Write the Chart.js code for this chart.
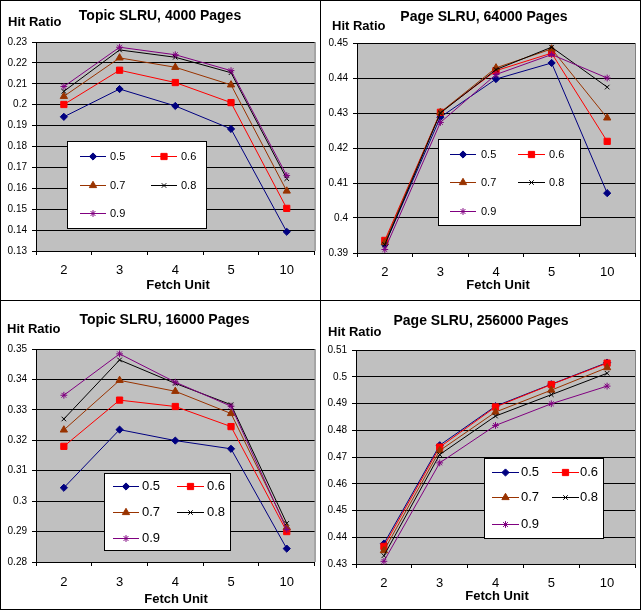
<!DOCTYPE html>
<html><head><meta charset="utf-8">
<script src="https://cdn.jsdelivr.net/npm/chart.js@4.4.1/dist/chart.umd.min.js"></script>
<style>
html,body{margin:0;padding:0;background:#fff;}
#wrap{position:relative;width:641px;height:610px;overflow:hidden;background:#fff;}
canvas{position:absolute;}
.ln{position:absolute;background:#000;z-index:5;}
</style></head><body>
<div id="wrap">
<canvas id="c1" width="320" height="300" style="left:0;top:0"></canvas>
<canvas id="c2" width="321" height="300" style="left:320px;top:0"></canvas>
<canvas id="c3" width="320" height="310" style="left:0;top:300px"></canvas>
<canvas id="c4" width="321" height="310" style="left:320px;top:300px"></canvas>
<div class="ln" style="left:0;top:0;width:641px;height:1px"></div>
<div class="ln" style="left:0;top:609px;width:641px;height:1px"></div>
<div class="ln" style="left:0;top:0;width:1px;height:610px"></div>
<div class="ln" style="left:640px;top:0;width:1px;height:610px"></div>
<div class="ln" style="left:320px;top:0;width:1px;height:610px"></div>
<div class="ln" style="left:0;top:300px;width:641px;height:1px"></div>
</div>
<script>
// ---------- data ----------
const categories = ['2', '3', '4', '5', '10'];
const seriesNames = ['0.5', '0.6', '0.7', '0.8', '0.9'];
const titles = ['Topic SLRU, 4000 Pages', 'Page SLRU, 64000 Pages', 'Topic SLRU, 16000 Pages', 'Page SLRU, 256000 Pages'];
const yAxisTitle = 'Hit Ratio';
const xAxisTitle = 'Fetch Unit';

// y axis [min, max, step]
const yRangeTopic4000 = [0.13, 0.23, 0.01];
const yRangePage64000 = [0.39, 0.45, 0.01];
const yRangeTopic16000 = [0.28, 0.35, 0.01];
const yRangePage256000 = [0.43, 0.51, 0.01];

// Topic SLRU, 4000 Pages
const topic4000_05 = [0.1942, 0.2075, 0.1994, 0.1884, 0.1392];
const topic4000_06 = [0.2001, 0.2165, 0.2106, 0.2010, 0.1504];
const topic4000_07 = [0.2040, 0.2224, 0.2179, 0.2095, 0.1587];
const topic4000_08 = [0.2064, 0.2262, 0.2227, 0.2153, 0.1646];
const topic4000_09 = [0.2087, 0.2275, 0.2239, 0.2163, 0.1661];

// Page SLRU, 64000 Pages
const page64000_05 = [0.3924, 0.4288, 0.4397, 0.4443, 0.4071];
const page64000_06 = [0.3936, 0.4302, 0.4421, 0.4471, 0.4219];
const page64000_07 = [0.3930, 0.4302, 0.4429, 0.4483, 0.4286];
const page64000_08 = [0.3924, 0.4300, 0.4424, 0.4488, 0.4374];
const page64000_09 = [0.3910, 0.4273, 0.4410, 0.4467, 0.4400];

// Topic SLRU, 16000 Pages
const topic16000_05 = [0.3044, 0.3235, 0.3199, 0.3172, 0.2844];
const topic16000_06 = [0.3180, 0.3332, 0.3311, 0.3245, 0.2900];
const topic16000_07 = [0.3234, 0.3397, 0.3361, 0.3288, 0.2913];
const topic16000_08 = [0.3270, 0.3464, 0.3387, 0.3317, 0.2927];
const topic16000_09 = [0.3348, 0.3484, 0.3391, 0.3312, 0.2907];

// Page SLRU, 256000 Pages
const page256000_05 = [0.4376, 0.4744, 0.4890, 0.4972, 0.5053];
const page256000_06 = [0.4366, 0.4737, 0.4887, 0.4971, 0.5051];
const page256000_07 = [0.4350, 0.4724, 0.4868, 0.4950, 0.5034];
const page256000_08 = [0.4331, 0.4709, 0.4853, 0.4933, 0.5013];
const page256000_09 = [0.4310, 0.4678, 0.4818, 0.4899, 0.4965];

// ---------- styles ----------
const FONT = "'Liberation Sans', Arial, Helvetica, sans-serif";
const seriesStyle = [
  {color: '#000080', point: 'rectRot', r: 3.6},
  {color: '#FF0000', point: 'rect', r: 4.4},
  {color: '#993300', point: 'triangle', r: 4.2},
  {color: '#000000', point: 'crossRot', r: 3.2},
  {color: '#800080', point: 'star', r: 3.4}
];

const panels = [
  {id: 'c1', title: titles[0], series: [topic4000_05, topic4000_06, topic4000_07, topic4000_08, topic4000_09], yr: yRangeTopic4000,
   area: {l: 36, t: 42, r: 315, b: 251}, tickPad: 8,
   titleX: 160, titleY: 20, hitX: 8, hitY: 26, fetchX: 178, fetchY: 289,
   legend: {x: 67, y: 141, w: 140, h: 88, rows: [15, 44, 72], c1: [13, 39, 43], c2: [84, 110, 114], fs: 11}},
  {id: 'c2', title: titles[1], series: [page64000_05, page64000_06, page64000_07, page64000_08, page64000_09], yr: yRangePage64000,
   area: {l: 37, t: 43, r: 315, b: 253}, tickPad: 8,
   titleX: 164, titleY: 21, hitX: 12, hitY: 30, fetchX: 178, fetchY: 289,
   legend: {x: 118, y: 139, w: 143, h: 87, rows: [15, 43, 72], c1: [12, 38, 43], c2: [80, 107, 111], fs: 11}},
  {id: 'c3', title: titles[2], series: [topic16000_05, topic16000_06, topic16000_07, topic16000_08, topic16000_09], yr: yRangeTopic16000,
   area: {l: 36, t: 49, r: 315, b: 262}, tickPad: 9,
   titleX: 164.5, titleY: 24, hitX: 7, hitY: 33, fetchX: 176, fetchY: 303,
   legend: {x: 104, y: 173, w: 127, h: 78, rows: [13, 39, 65], c1: [9, 35, 38], c2: [73, 100, 103], fs: 13}},
  {id: 'c4', title: titles[3], series: [page256000_05, page256000_06, page256000_07, page256000_08, page256000_09], yr: yRangePage256000,
   area: {l: 36, t: 50, r: 315, b: 264}, tickPad: 8,
   titleX: 161, titleY: 25, hitX: 8, hitY: 36, fetchX: 177, fetchY: 300,
   legend: {x: 164, y: 158, w: 120, h: 81, rows: [14, 39, 66], c1: [8, 35, 37], c2: [68, 95, 96], fs: 13}}
];

function drawMarker(ctx, st, x, y) {
  ctx.save();
  ctx.fillStyle = st.color;
  ctx.strokeStyle = st.color;
  ctx.lineWidth = 1;
  Chart.helpers.drawPoint(ctx, {pointStyle: st.point, radius: st.r, rotation: 0, borderWidth: 1}, x, y);
  ctx.restore();
}

function makeChart(p) {
  const canvas = document.getElementById(p.id);
  const W = canvas.width, H = canvas.height;
  const deco = {
    id: 'deco' + p.id,
    beforeDraw(chart) {
      const ctx = chart.ctx, a = chart.chartArea;
      ctx.save();
      ctx.fillStyle = '#fff';
      ctx.fillRect(0, 0, W, H);
      ctx.fillStyle = '#C0C0C0';
      ctx.fillRect(a.left, a.top, a.right - a.left + 1, a.bottom - a.top);
      ctx.strokeStyle = '#808080';
      ctx.lineWidth = 1;
      ctx.beginPath();
      ctx.moveTo(a.right + 0.5, a.top);
      ctx.lineTo(a.right + 0.5, a.bottom);
      ctx.stroke();
      ctx.restore();
    },
    afterDraw(chart) {
      const ctx = chart.ctx;
      ctx.save();
      ctx.fillStyle = '#000';
      ctx.textBaseline = 'alphabetic';
      ctx.font = 'bold 14px ' + FONT;
      ctx.textAlign = 'center';
      ctx.fillText(p.title, p.titleX, p.titleY);
      ctx.font = 'bold 13px ' + FONT;
      ctx.textAlign = 'left';
      ctx.fillText(yAxisTitle, p.hitX, p.hitY);
      ctx.textAlign = 'center';
      ctx.fillText(xAxisTitle, p.fetchX, p.fetchY);
      // legend
      const L = p.legend;
      ctx.fillStyle = '#fff';
      ctx.fillRect(L.x, L.y, L.w, L.h);
      ctx.strokeStyle = '#000';
      ctx.lineWidth = 1;
      ctx.strokeRect(L.x + 0.5, L.y + 0.5, L.w - 1, L.h - 1);
      ctx.font = L.fs + 'px ' + FONT;
      ctx.textAlign = 'left';
      ctx.textBaseline = 'middle';
      seriesNames.forEach((name, i) => {
        const row = Math.floor(i / 2), col = i % 2;
        const c = col === 0 ? L.c1 : L.c2;
        const y = L.y + L.rows[row] + 0.5;
        const st = seriesStyle[i];
        ctx.strokeStyle = st.color;
        ctx.beginPath();
        ctx.moveTo(L.x + c[0], y);
        ctx.lineTo(L.x + c[1], y);
        ctx.stroke();
        drawMarker(ctx, st, L.x + (c[0] + c[1]) / 2, y);
        ctx.fillStyle = '#000';
        ctx.fillText(name, L.x + c[2], y);
      });
      ctx.restore();
    }
  };
  const datasets = p.series.map((vals, i) => ({
    label: seriesNames[i],
    data: vals,
    borderColor: seriesStyle[i].color,
    backgroundColor: seriesStyle[i].color,
    borderWidth: 1,
    pointStyle: seriesStyle[i].point,
    pointRadius: seriesStyle[i].r,
    pointBorderWidth: 1,
    pointBackgroundColor: seriesStyle[i].color,
    pointBorderColor: seriesStyle[i].color,
    tension: 0,
    fill: false,
    clip: false,
    order: 4 - i
  }));
  return new Chart(canvas, {
    type: 'line',
    data: {labels: categories, datasets},
    options: {
      responsive: false,
      animation: false,
      events: [],
      layout: {padding: {left: 0, top: p.area.t, right: W - p.area.r, bottom: 0}},
      plugins: {legend: {display: false}, title: {display: false}, tooltip: {enabled: false}},
      scales: {
        x: {
          offset: true,
          grid: {display: true, offset: true, drawOnChartArea: false, drawTicks: true, tickLength: 4, color: '#000', lineWidth: 1},
          border: {display: true, color: '#000', width: 1},
          ticks: {color: '#000', font: {family: FONT, size: 13}, padding: p.tickPad, maxRotation: 0, autoSkip: false},
          afterFit(s) { s.height = H - p.area.b; }
        },
        y: {
          min: p.yr[0], max: p.yr[1],
          grid: {display: true, drawOnChartArea: true, drawTicks: true, tickLength: 4, color: '#000', lineWidth: 1},
          border: {display: true, color: '#000', width: 1},
          ticks: {stepSize: p.yr[2], color: '#000', font: {family: FONT, size: 10}, padding: 5,
                  callback: v => String(Number(v.toFixed(2)))},
          afterFit(s) { s.width = p.area.l; }
        }
      }
    },
    plugins: [deco]
  });
}
panels.forEach(makeChart);
</script>
</body></html>
